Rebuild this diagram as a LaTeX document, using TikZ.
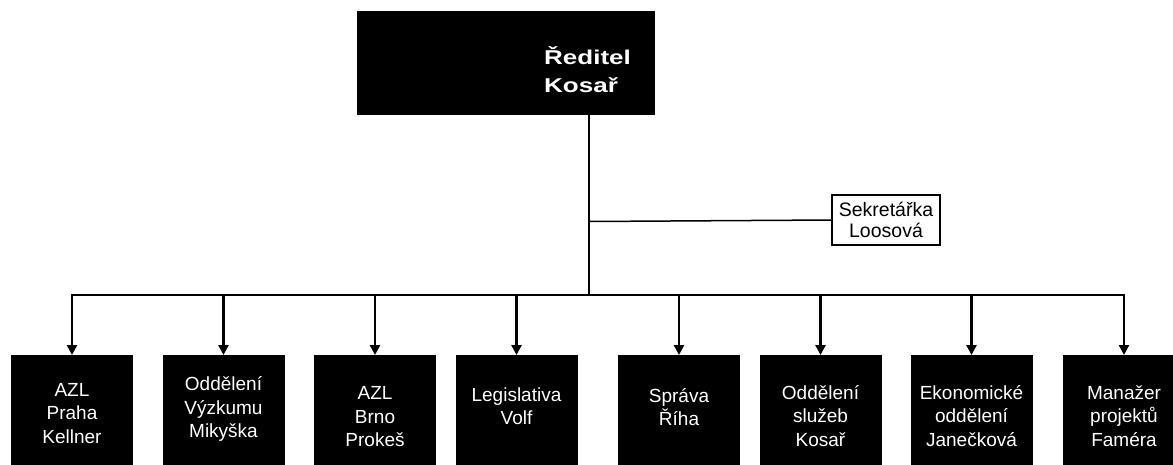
\documentclass[tikz,border=0pt]{standalone}
\usepackage{fontspec}
\setmainfont{Liberation Sans}
\newfontfamily\headfont[FakeStretch=1.3]{Liberation Sans}
\usetikzlibrary{arrows.meta}

\begin{document}
\begin{tikzpicture}[x=1pt,y=-1pt,
  conn/.style={line width=2.8pt, draw=black},
  tip/.style={-{Triangle[width=10pt,length=10pt]}},
  dept/.style={fill=black, minimum width=122pt, minimum height=130pt,
    anchor=north, inner sep=0pt},
  % anchor=base of a multi-line node is the baseline of its last line
  depttext/.style={text=white, align=center, anchor=base, inner sep=0pt,
    font=\fontsize{19}{23.5}\selectfont},
]
\useasboundingbox (0,0) rectangle (1173,464);
\clip (0,0) rectangle (1173,464);
\fill[white] (0,0) rectangle (1173,464);

% director
\node[fill=black, minimum width=298pt, minimum height=104pt, inner sep=0pt] (dir) at (506,63) {};
\node[anchor=base west, text=white, align=left, inner sep=0pt,
  font=\headfont\bfseries\fontsize{20}{28}\selectfont] (dirtext) at (544,92.5) {Ředitel\\Kosař};

% secretary
\node[draw, line width=1.2pt, minimum width=108pt, minimum height=50pt, inner sep=0pt,
  align=center, font=\fontsize{19.5}{21}\selectfont] (sec) at (886,220) {Sekretářka\\Loosová};

\coordinate (j) at (589,295);
\coordinate (s) at (589,221.5);
\draw[conn] (dir.south -| j) -- (j);
\draw[line width=1.5pt] (s) -- (sec.west);

% departments
\node[dept] (d1) at (72,355) {};
\node[dept] (d2) at (223.5,355) {};
\node[dept] (d3) at (375,355) {};
\node[dept] (d4) at (516.5,355) {};
\node[dept] (d5) at (679,355) {};
\node[dept] (d6) at (820.5,355) {};
\node[dept] (d7) at (971.5,355) {};
\node[dept] (d8) at (1124,355) {};

\foreach \d in {d1,d2,d3,d4,d5,d6,d7,d8}
  \draw[conn,tip] (j) -| (\d.north);

\node[depttext] (t1) at (72,443) {AZL\\Praha\\Kellner};
\node[depttext] (t2) at (223.5,437.5) {Oddělení\\Výzkumu\\Mikyška};
\node[depttext] (t3) at (375,446.5) {AZL\\Brno\\Prokeš};
\node[depttext] (t4) at (516.5,424.5) {Legislativa\\Volf};
\node[depttext] (t5) at (679,425.5) {Správa\\Říha};
\node[depttext] (t6) at (820.5,446) {Oddělení\\služeb\\Kosař};
\node[depttext] (t7) at (971.5,446) {Ekonomické\\oddělení\\Janečková};
\node[depttext] (t8) at (1124,446) {Manažer\\projektů\\Faméra};
\end{tikzpicture}
\end{document}
